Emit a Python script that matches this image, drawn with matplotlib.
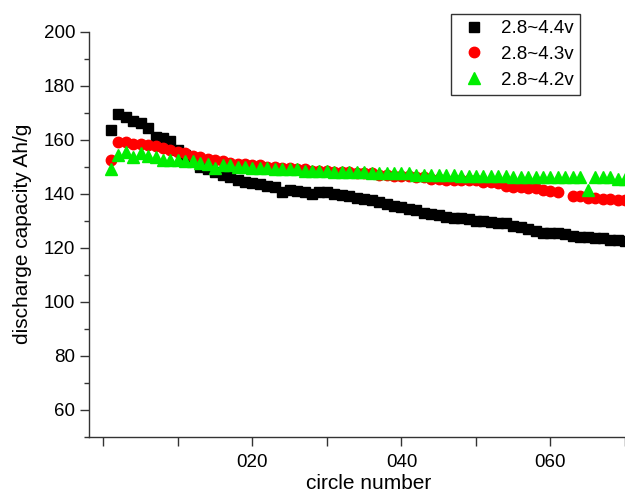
import numpy as np
import matplotlib
matplotlib.use("Agg")
import matplotlib.pyplot as plt
from matplotlib.ticker import MultipleLocator

plt.rcParams['font.family'] = ['Liberation Sans', 'DejaVu Sans']

cycles = list(range(1, 71))

cap_44 = [163.5, 169.5, 168.5, 167, 166, 164.5, 161, 160.5, 159.5, 156,
          154.5, 152, 150, 149, 148, 147, 146, 145, 144.5, 144,
          143.5, 143, 142.5, 140.5, 141.5, 141, 140.5, 140, 140.5, 140.5,
          140, 139.5, 139, 138.5, 138, 137.5, 137, 136, 135.5, 135,
          134.5, 134, 133, 132.5, 132, 131.5, 131, 131, 130.5, 130,
          130, 129.5, 129, 129, 128, 127.5, 127, 126, 125.5, 125.5,
          125.5, 125, 124.5, 124, 124, 123.5, 123.5, 123, 123, 122.5]

cap_43 = [152.5, 159, 159, 158.5, 158.5, 158, 157.5, 157, 156, 155.5,
          155, 154, 153.5, 153, 152.5, 152, 151.5, 151, 151, 150.5,
          150.5, 150, 150, 149.5, 149.5, 149, 149, 148.5, 148.5, 148.5,
          148, 148, 148, 147.5, 147.5, 147.5, 147, 147, 146.5, 146.5,
          146.5, 146, 146, 145.5, 145.5, 145, 145, 145, 145, 145,
          144.5, 144.5, 144, 143, 142.5, 142.5, 142, 142, 141.5, 141,
          140.5, np.nan, 139, 139, 138.5, 138.5, 138, 138, 137.5, 137.5]

cap_42 = [149, 154.5, 155.5, 153.5, 155, 154, 153.5, 152.5, 152.5, 152.5,
          152, 152, 151.5, 151, 149.5, 150.5, 150.5, 150, 150, 149.5,
          149.5, 149.5, 149, 149, 149, 149, 148.5, 148.5, 148.5, 148.5,
          148, 148, 148, 148, 148, 147.5, 147.5, 147.5, 147.5, 147.5,
          147.5, 147, 147, 147, 147, 147, 147, 146.5, 146.5, 146.5,
          146.5, 146.5, 146.5, 146.5, 146, 146, 146, 146, 146, 146,
          146, 146, 146, 146, 141.5, 146, 146, 146, 145.5, 145.5]

labels = ['2.8~4.4v', '2.8~4.3v', '2.8~4.2v']
xtick_vals = [0, 10, 20, 30, 40, 50, 60, 70]
xtick_labels = ['', '', '020', '', '040', '', '060', '']

fig = plt.figure(figsize=(6.25, 4.92), dpi=100)
ax = fig.add_axes([0.1416, 0.1124, 0.8584, 0.8232])

ax.plot(cycles, cap_44, linestyle='none', marker='s', markersize=6.5,
        color='black', label=labels[0], clip_on=True)
ax.plot(cycles, cap_43, linestyle='none', marker='o', markersize=7.5,
        color='#ff0000', label=labels[1], clip_on=True)
ax.plot(cycles, cap_42, linestyle='none', marker='^', markersize=8,
        color='#00ee00', label=labels[2], clip_on=True)

ax.set_xlim(-2, 70)
ax.set_ylim(50, 200)

ax.set_xticks(xtick_vals)
ax.set_xticklabels(xtick_labels)
ax.yaxis.set_major_locator(MultipleLocator(20))
ax.yaxis.set_minor_locator(MultipleLocator(10))
ax.set_yticks([60, 80, 100, 120, 140, 160, 180, 200])

ax.spines['top'].set_visible(False)
ax.spines['right'].set_visible(False)
for s in ['left', 'bottom']:
    ax.spines[s].set_color('#333333')
    ax.spines[s].set_linewidth(1.0)

ax.tick_params(axis='both', which='major', direction='out', length=6.5,
               width=1, color='#333333', labelsize=13.5, pad=3)
ax.tick_params(axis='y', which='minor', direction='out', length=3.5,
               width=1, color='#333333')
ax.tick_params(axis='x', pad=6)

ax.set_xlabel('circle number', fontsize=15)
ax.set_ylabel('discharge capacity Ah/g', fontsize=15)
ax.xaxis.set_label_coords(0.523, -0.092)
ax.yaxis.set_label_coords(-0.105, 0.5)

leg = fig.legend(loc='upper left', bbox_to_anchor=(451/625, 1 - 13.7/492),
                 borderaxespad=0.0,
                 frameon=True, fancybox=False, edgecolor='black',
                 fontsize=13.5, handletextpad=0.5, borderpad=0.35,
                 labelspacing=0.45, handlelength=1.8)
leg.get_frame().set_linewidth(1.0)

fig.savefig('out.png', dpi=100)
